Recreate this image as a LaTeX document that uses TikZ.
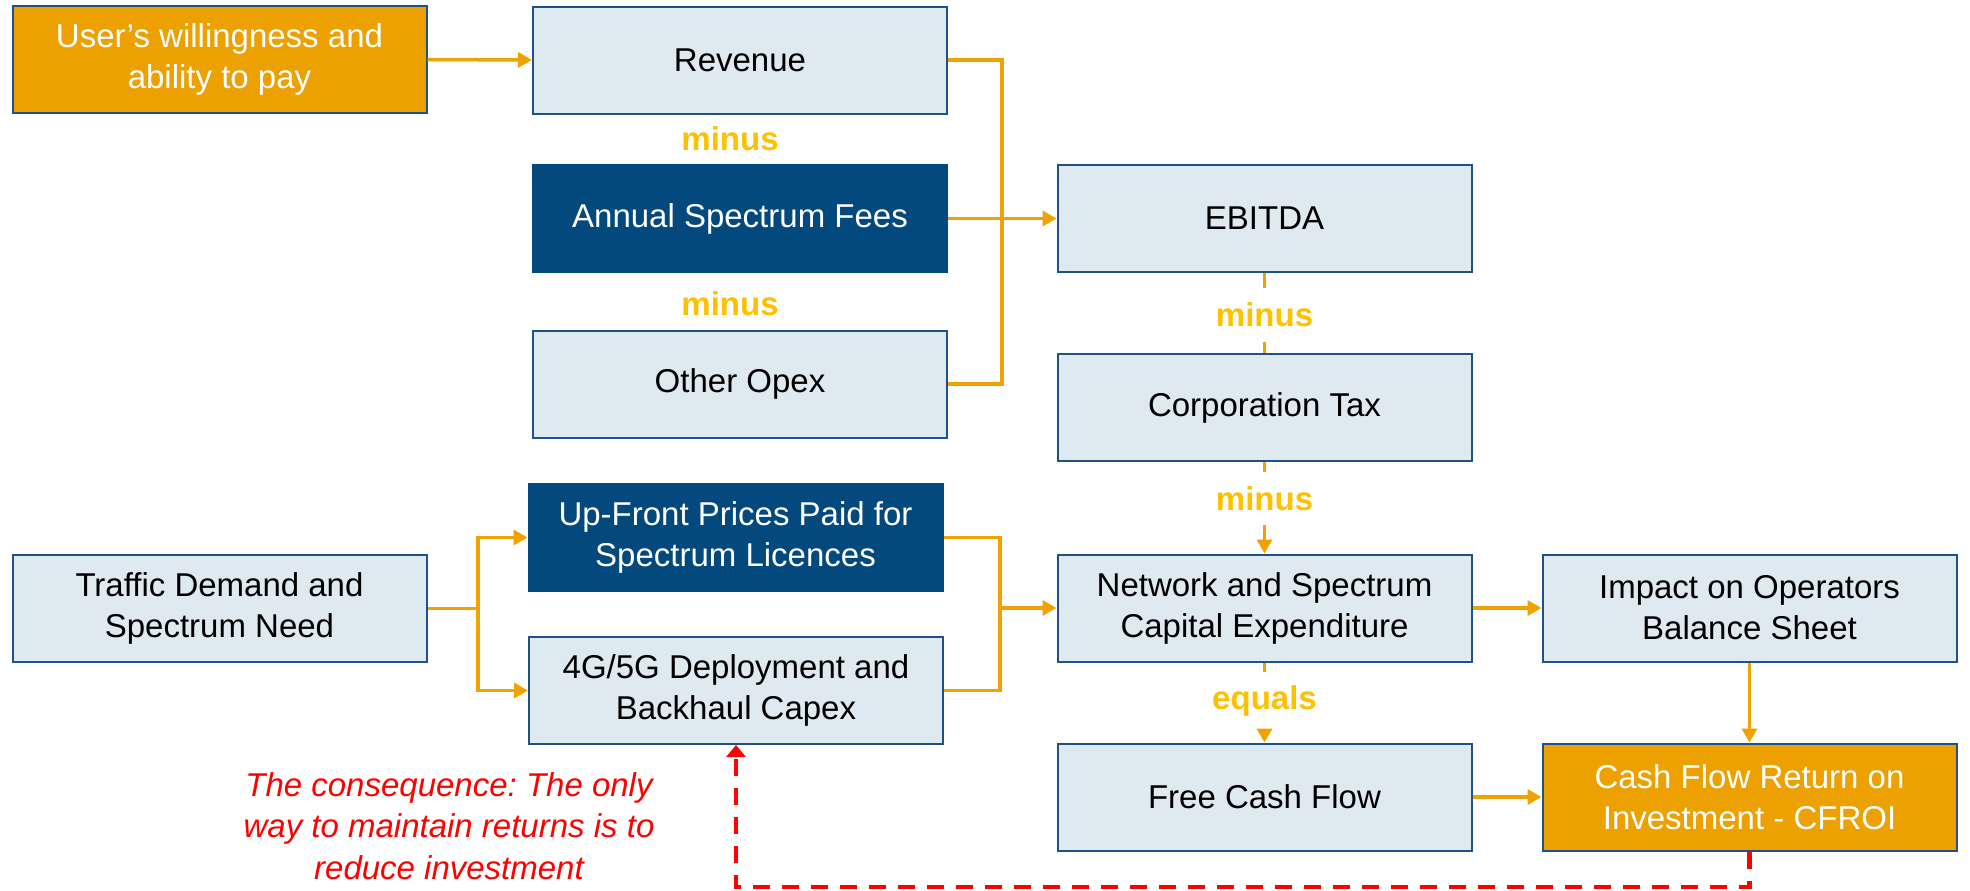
\documentclass[tikz,border=0pt]{standalone}
\usepackage{fontspec}
\setmainfont{Liberation Sans}
\usetikzlibrary{arrows.meta}
\frenchspacing
\definecolor{orangebox}{RGB}{237,161,0}
\definecolor{conncol}{RGB}{240,162,0}
\definecolor{minuscol}{RGB}{255,192,0}
\definecolor{lightfill}{RGB}{222,233,240}
\definecolor{boxborder}{RGB}{31,82,135}
\definecolor{darkfill}{RGB}{4,73,126}
\definecolor{redline}{RGB}{255,0,0}
\tikzset{
  base/.style={minimum width=207pt, minimum height=53.5pt, inner sep=2pt, align=center,
    font=\fontsize{16.5pt}{20.5pt}\selectfont, line width=1pt},
  lightbox/.style={base, fill=lightfill, draw=boxborder, text=black},
  darkbox/.style={base, fill=darkfill, draw=darkfill, text=white},
  orangebox/.style={base, fill=orangebox, draw=boxborder, text=white},
  conn/.style={draw=conncol, line width=1.75pt},
  arr/.style={conn, -{Triangle[length=7pt,width=7.5pt]}},
  lbl/.style={font=\fontsize{16.5pt}{20pt}\selectfont\bfseries, text=minuscol, inner sep=0pt},
  redarr/.style={draw=redline, line width=2.2pt, dash pattern=on 8.5pt off 6pt,
    -{Triangle[length=6pt,width=9.5pt]}}
}
\begin{document}
\begin{tikzpicture}[x=0.5pt,y=-0.5pt]
\useasboundingbox (0,0) rectangle (1970,890);
% boxes
\node[orangebox] (user) at (219.5,59.5) {User’s willingness and\\ability to pay};
\node[lightbox] (revenue) at (740,60) {Revenue};
\node[darkbox] (annual) at (740,218.5) {Annual Spectrum Fees};
\node[lightbox] (other) at (740,384) {Other Opex};
\node[lightbox] (ebitda) at (1264.5,218.5) {EBITDA};
\node[lightbox] (corp) at (1264.5,407.5) {Corporation Tax};
\node[lightbox] (traffic) at (219.5,608.5) {Traffic Demand and\\Spectrum Need};
\node[darkbox] (upfront) at (735.5,537.5) {Up-Front Prices Paid for\\Spectrum Licences};
\node[lightbox] (capex) at (736,690.5) {4G/5G Deployment and\\Backhaul Capex};
\node[lightbox] (network) at (1264.5,608) {Network and Spectrum\\Capital Expenditure};
\node[lightbox] (impact) at (1749.5,608) {Impact on Operators\\Balance Sheet};
\node[lightbox] (free) at (1264.5,797) {Free Cash Flow};
\node[orangebox] (cfroi) at (1749.5,797) {Cash Flow Return on\\Investment - CFROI};
% labels
\node[lbl] (mA) at (730,139) {minus};
\node[lbl] (mB) at (730,304) {minus};
\node[lbl, minimum height=27pt] (m1) at (1264.5,315) {minus};
\node[lbl, minimum height=26.5pt] (m2) at (1264.5,498.5) {minus};
\node[lbl, minimum height=28.5pt] (m3) at (1264.5,700.5) {equals};
\node[font=\fontsize{16.5pt}{20.7pt}\selectfont\itshape, text=redline, align=center] (note) at (449,826)
  {The consequence: The only\\way to maintain returns is to\\reduce investment};
% connectors top
\draw[arr] (user.east) -- (revenue.west);
\coordinate (tj) at (1002,218.5);
\draw[conn] (revenue.east) -| (tj);
\draw[conn] (other.east) -| (tj);
\draw[arr] (annual.east) -- (ebitda.west);
\draw[conn] (ebitda.south) -- (m1.north);
\draw[conn] (m1.south) -- (corp.north);
\draw[conn] (corp.south) -- (m2.north);
\draw[arr] (m2.south) -- (network.north);
\draw[conn] (network.south) -- (m3.north);
\draw[arr] (m3.south) -- (free.north);
% bottom left branch
\coordinate (tb) at (478,608.5);
\draw[conn] (traffic.east) -- (tb);
\draw[arr] (tb) |- (upfront.west);
\draw[arr] (tb) |- (capex.west);
\coordinate (mj) at (1000,608);
\draw[conn] (upfront.east) -| (mj);
\draw[conn] (capex.east) -| (mj);
\draw[arr] (mj) -- (network.west);
% right
\draw[arr] (network.east) -- (impact.west);
\draw[arr] (impact.south) -- (cfroi.north);
\draw[arr] (free.east) -- (cfroi.west);
% red feedback
\coordinate (rc) at (1749.5,887);
\draw[redarr] (cfroi.south) -- (rc) -| (capex.south);
\end{tikzpicture}
\end{document}
